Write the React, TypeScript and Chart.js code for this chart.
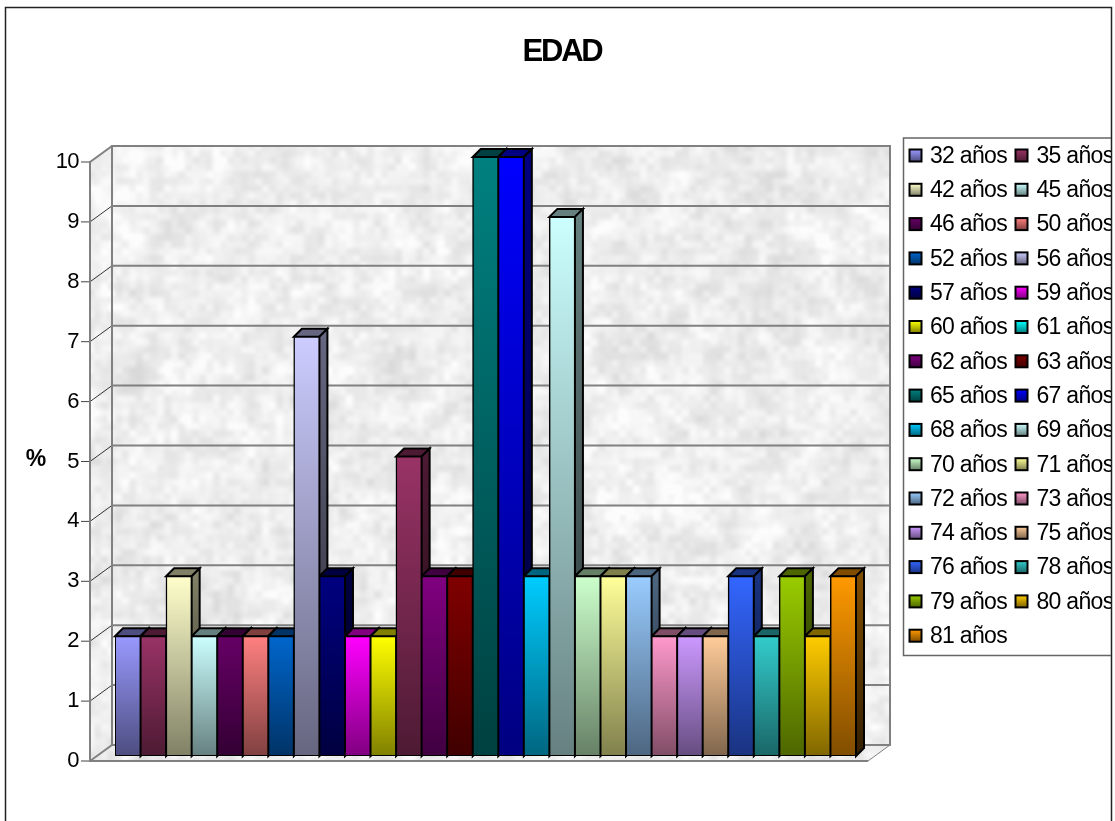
import { useEffect, useRef } from "react";
import { Chart, registerables } from "chart.js";

Chart.register(...registerables);

// Ages shown in the legend and the percentage of people at each age.
const ages = [32, 35, 42, 45, 46, 50, 52, 56, 57, 59, 60, 61, 62, 63, 65, 67, 68, 69, 70, 71, 72, 73, 74, 75, 76, 78, 79, 80, 81];
const percentages = [2, 2, 3, 2, 2, 2, 2, 7, 3, 2, 2, 5, 3, 3, 10, 10, 3, 9, 3, 3, 3, 2, 2, 2, 3, 2, 3, 2, 3];
const barColors = [
  "#9999FF", "#993366", "#FFFFCC", "#CCFFFF", "#660066", "#FF8080", "#0066CC", "#CCCCFF", "#000080", "#FF00FF",
  "#FFFF00", "#993366", "#800080", "#800000", "#008080", "#0000FF", "#00CCFF", "#CCFFFF", "#CCFFCC", "#FFFF99",
  "#99CCFF", "#FF99CC", "#CC99FF", "#FFCC99", "#3366FF", "#33CCCC", "#99CC00", "#FFCC00", "#FF9900",
];
const legendColors = [
  "#9999FF", "#993366", "#FFFFCC", "#CCFFFF", "#660066", "#FF8080", "#0066CC", "#CCCCFF", "#000080", "#FF00FF",
  "#FFFF00", "#00FFFF", "#800080", "#800000", "#008080", "#0000FF", "#00CCFF", "#CCFFFF", "#CCFFCC", "#FFFF99",
  "#99CCFF", "#FF99CC", "#CC99FF", "#FFCC99", "#3366FF", "#33CCCC", "#99CC00", "#FFCC00", "#FF9900",
];
const ageLabels = ages.map((a) => `${a} años`);

const FONT = '"Liberation Sans", Arial, sans-serif';

// Projection of the 3D box relative to the plane of the bar fronts.
const WALL_FRONT_X = 90;
const WALL_BACK_X = 112;
const WALL_RIGHT_X = 890;
const FLOOR_RIGHT_X = 868;
const FRONT_DY = 5;
const BACK_DY = -11;
const BAR_DEPTH = 8;

function shade(hex: string, f: number) {
  const n = parseInt(hex.slice(1), 16);
  const c = [(n >> 16) & 255, (n >> 8) & 255, n & 255].map((v) => Math.round(v * f));
  return `rgb(${c[0]},${c[1]},${c[2]})`;
}

function hash(x: number, y: number) {
  const s = Math.sin(x * 127.1 + y * 311.7) * 43758.5453;
  return s - Math.floor(s);
}

function valueNoise(x: number, y: number) {
  const ix = Math.floor(x);
  const iy = Math.floor(y);
  const fx = x - ix;
  const fy = y - iy;
  const ux = fx * fx * (3 - 2 * fx);
  const uy = fy * fy * (3 - 2 * fy);
  const a = hash(ix, iy) + (hash(ix + 1, iy) - hash(ix, iy)) * ux;
  const b = hash(ix, iy + 1) + (hash(ix + 1, iy + 1) - hash(ix, iy + 1)) * ux;
  return a + (b - a) * uy;
}

// Soft mottled grey stone texture for the walls and floor.
function stonePattern(ctx: CanvasRenderingContext2D) {
  const w = 820;
  const h = 640;
  const off = document.createElement("canvas");
  off.width = w;
  off.height = h;
  const oc = off.getContext("2d")!;
  const img = oc.createImageData(w, h);
  for (let y = 0; y < h; y++) {
    for (let x = 0; x < w; x++) {
      const n =
        0.35 * valueNoise(x / 7, y / 7) +
        0.4 * valueNoise(x / 16 + 40, y / 16 + 17) +
        0.25 * valueNoise(x / 45 + 9, y / 45 + 71);
      const v = Math.max(205, Math.min(252, 238 + (n - 0.5) * 50));
      const i = (y * w + x) * 4;
      img.data[i] = v;
      img.data[i + 1] = v;
      img.data[i + 2] = v;
      img.data[i + 3] = 255;
    }
  }
  oc.putImageData(img, 0, 0);
  return ctx.createPattern(off, "no-repeat")!;
}

function poly(ctx: CanvasRenderingContext2D, pts: number[][]) {
  ctx.beginPath();
  pts.forEach((p, i) => (i ? ctx.lineTo(p[0], p[1]) : ctx.moveTo(p[0], p[1])));
  ctx.closePath();
}

function line(ctx: CanvasRenderingContext2D, x1: number, y1: number, x2: number, y2: number, color: string, width: number) {
  ctx.beginPath();
  ctx.moveTo(x1, y1);
  ctx.lineTo(x2, y2);
  ctx.strokeStyle = color;
  ctx.lineWidth = width;
  ctx.stroke();
}

const framePlugin = {
  id: "frame",
  beforeDraw(chart: any) {
    const ctx: CanvasRenderingContext2D = chart.ctx;
    ctx.save();
    ctx.fillStyle = "#fff";
    ctx.fillRect(0, 0, chart.width, chart.height);
    ctx.strokeStyle = "#222";
    ctx.lineWidth = 1.5;
    ctx.beginPath();
    ctx.moveTo(5.5, chart.height + 2);
    ctx.lineTo(5.5, 7.5);
    ctx.lineTo(1111.5, 7.5);
    ctx.lineTo(1111.5, chart.height + 2);
    ctx.stroke();
    ctx.restore();

    // All text in the chart is set tight; the title tighter still.
    (ctx as any).letterSpacing = "-0.6px";
    const title = chart.titleBlock;
    if (title && !title.__tight) {
      const drawTitle = title.draw;
      title.draw = function () {
        ctx.save();
        (ctx as any).letterSpacing = "-2.2px";
        drawTitle.call(title);
        ctx.restore();
      };
      title.__tight = true;
    }
  },
};

const box3dPlugin = {
  id: "box3d",
  beforeDatasetsDraw(chart: any) {
    const ctx: CanvasRenderingContext2D = chart.ctx;
    const yScale = chart.scales.y;
    const top = yScale.getPixelForValue(10);
    const bottom = yScale.getPixelForValue(0);
    const frontTop = top + FRONT_DY;
    const frontBottom = bottom + FRONT_DY;
    const backTop = top + BACK_DY;
    const backBottom = bottom + BACK_DY;

    ctx.save();
    if (!chart.$stone) chart.$stone = stonePattern(ctx);
    chart.$stone.setTransform(new DOMMatrix().translate(WALL_FRONT_X, backTop));
    ctx.fillStyle = chart.$stone;
    ctx.fillRect(WALL_BACK_X, backTop, WALL_RIGHT_X - WALL_BACK_X, backBottom - backTop);
    poly(ctx, [[WALL_FRONT_X, frontTop], [WALL_BACK_X, backTop], [WALL_BACK_X, backBottom], [WALL_FRONT_X, frontBottom]]);
    ctx.fill();
    poly(ctx, [[WALL_FRONT_X, frontBottom], [WALL_BACK_X, backBottom], [WALL_RIGHT_X, backBottom], [FLOOR_RIGHT_X, frontBottom]]);
    ctx.fill();

    const grey = "#808080";
    for (const t of yScale.ticks) {
      const y = yScale.getPixelForValue(t.value);
      line(ctx, WALL_BACK_X, y + BACK_DY, WALL_RIGHT_X, y + BACK_DY, grey, 2);
      const edge = t.value === 0 || t.value === 10;
      line(ctx, WALL_FRONT_X, y + FRONT_DY, WALL_BACK_X, y + BACK_DY, edge ? grey : "#333", edge ? 2 : 1);
      line(ctx, WALL_FRONT_X - 9, y + FRONT_DY, WALL_FRONT_X, y + FRONT_DY, "#444", 1);
    }
    line(ctx, WALL_BACK_X, backTop - 1, WALL_BACK_X, backBottom, grey, 2);
    line(ctx, WALL_FRONT_X, frontTop - 1, WALL_FRONT_X, frontBottom + 1, grey, 2);
    line(ctx, WALL_RIGHT_X, backTop - 1, WALL_RIGHT_X, backBottom + 1, grey, 2);
    line(ctx, WALL_FRONT_X, frontBottom, FLOOR_RIGHT_X, frontBottom, grey, 2);
    line(ctx, FLOOR_RIGHT_X, frontBottom, WALL_RIGHT_X, backBottom, grey, 1);

    // Top and right faces of each bar, painted left to right so neighbours overlap properly.
    const meta = chart.getDatasetMeta(0);
    ctx.lineJoin = "miter";
    meta.data.forEach((el: any, i: number) => {
      const { x, y, base, width } = el.getProps(["x", "y", "base", "width"], true);
      const L = x - width / 2;
      const R = x + width / 2;
      const color = barColors[i];
      ctx.strokeStyle = "#000";
      ctx.lineWidth = 2;
      poly(ctx, [[L, y], [L + BAR_DEPTH, y - BAR_DEPTH], [R + BAR_DEPTH, y - BAR_DEPTH], [R, y]]);
      ctx.fillStyle = shade(color, 0.5);
      ctx.fill();
      ctx.stroke();
      poly(ctx, [[R, y], [R + BAR_DEPTH, y - BAR_DEPTH], [R + BAR_DEPTH, base - BAR_DEPTH], [R, base]]);
      const g = ctx.createLinearGradient(0, y, 0, base);
      g.addColorStop(0, shade(color, 0.5));
      g.addColorStop(1, shade(color, 0.2));
      ctx.fillStyle = g;
      ctx.fill();
      ctx.stroke();
    });
    ctx.restore();
  },
  afterDraw(chart: any) {
    const ctx: CanvasRenderingContext2D = chart.ctx;
    ctx.save();
    // Axis name, written horizontally beside the ticks.
    ctx.fillStyle = "#000";
    ctx.font = `bold 23px ${FONT}`;
    ctx.textAlign = "center";
    ctx.textBaseline = "middle";
    (ctx as any).letterSpacing = "0px";
    ctx.fillText("%", 36, 460);

    // Two-column legend box; the right column runs up against the outer frame.
    const left = 903.5;
    const topY = 138;
    const bottomY = 655.5;
    const right = 1111;
    ctx.strokeStyle = "#666";
    ctx.lineWidth = 1.5;
    ctx.beginPath();
    ctx.moveTo(right, topY);
    ctx.lineTo(left, topY);
    ctx.lineTo(left, bottomY);
    ctx.lineTo(right, bottomY);
    ctx.stroke();

    ctx.beginPath();
    ctx.rect(left, topY, right - left, bottomY - topY);
    ctx.clip();
    ctx.font = `23px ${FONT}`;
    (ctx as any).letterSpacing = "-0.7px";
    ctx.textAlign = "left";
    ageLabels.forEach((label, i) => {
      const col = i % 2;
      const row = Math.floor(i / 2);
      const cy = 155.5 + row * 34.3;
      const sx = col ? 1015.5 : 909.5;
      const tx = col ? 1036.5 : 930;
      const g = ctx.createLinearGradient(0, cy - 6, 0, cy + 6);
      g.addColorStop(0, legendColors[i]);
      g.addColorStop(1, shade(legendColors[i], 0.5));
      ctx.fillStyle = g;
      ctx.fillRect(sx, cy - 6, 12, 12);
      ctx.strokeStyle = "#000";
      ctx.lineWidth = 2;
      ctx.strokeRect(sx, cy - 6, 12, 12);
      ctx.fillStyle = "#000";
      ctx.fillText(label, tx, cy + 1);
    });
    ctx.restore();
  },
};

export default function App() {
  const ref = useRef<HTMLCanvasElement>(null);

  useEffect(() => {
    const chart = new Chart(ref.current!, {
      type: "bar",
      data: {
        labels: ageLabels,
        datasets: [
          {
            label: "EDAD",
            data: percentages,
            categoryPercentage: 1,
            barPercentage: 1,
            borderColor: "#000",
            borderWidth: 1.5,
            borderSkipped: false,
            inflateAmount: 0.5,
            backgroundColor: (c: any) => {
              const { chart: ch, dataIndex, raw } = c;
              const color = barColors[dataIndex] ?? "#000000";
              const s = ch.scales?.y;
              if (!s || raw === undefined) return color;
              const y0 = s.getPixelForValue(raw);
              const y1 = s.getPixelForValue(0);
              if (!Number.isFinite(y0) || !Number.isFinite(y1)) return color;
              const g = ch.ctx.createLinearGradient(0, y0, 0, y1);
              g.addColorStop(0, color);
              g.addColorStop(1, shade(color, 0.5));
              return g;
            },
          } as any,
        ],
      },
      options: {
        responsive: false,
        animation: false,
        layout: { autoPadding: false, padding: { left: 9, right: 0, top: 0, bottom: 65 } },
        plugins: {
          legend: { display: false },
          tooltip: { enabled: false },
          title: {
            display: true,
            text: "EDAD",
            color: "#000",
            font: { family: FONT, size: 31, weight: "bold", lineHeight: 1.2 },
            padding: { top: 34, bottom: 85.8 },
          },
        },
        scales: {
          x: { display: false, type: "category" },
          y: {
            type: "linear",
            position: "left",
            min: 0,
            max: 10,
            grid: { display: false, drawTicks: false },
            border: { display: false },
            ticks: {
              stepSize: 1,
              padding: 36,
              labelOffset: 5,
              color: "#000",
              font: { family: FONT, size: 22 },
            },
            afterFit: (s: any) => {
              s.width = 106;
            },
          },
          // Reserves the space on the right that the legend box occupies.
          legendSpace: {
            type: "linear",
            position: "right",
            grid: { display: false, drawTicks: false },
            border: { display: false },
            ticks: { display: false },
            afterFit: (s: any) => {
              s.width = 259;
            },
          },
        },
      } as any,
      plugins: [framePlugin, box3dPlugin],
    });
    return () => chart.destroy();
  }, []);

  return (
    <canvas
      ref={ref}
      width={1115}
      height={821}
      style={{ position: "absolute", left: 0, top: 0, display: "block" }}
    />
  );
}
